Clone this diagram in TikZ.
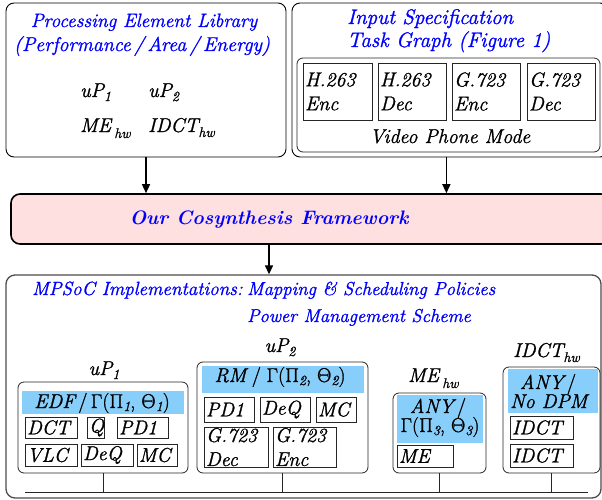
\documentclass[tikz,border=0pt]{standalone}
\usepackage{fontspec}
\newfontfamily\heavy{Latin Modern Roman}[FakeBold=1.2]
\usetikzlibrary{arrows.meta}
\definecolor{hdr}{RGB}{135,206,250}
\definecolor{fwpink}{RGB}{255,224,224}
\definecolor{ttl}{RGB}{0,0,255}
\newcommand{\mysub}[2][-4pt]{\raisebox{#1}{\fontsize{14}{14}\selectfont #2}}
\newcommand{\gsub}[1]{\raisebox{-3pt}{\fontsize{14}{14}\selectfont\itshape #1}}
\newcommand{\fs}[1]{\fontsize{#1}{24}\selectfont}
\newcommand{\rbox}[6]{%
  \pgfmathsetmacro\rbw{#5-#3}\pgfmathsetmacro\rbh{#6-#4}%
  \pgfmathsetmacro\rbx{(#3+#5)/2}\pgfmathsetmacro\rby{(#4+#6)/2}%
  \node[#1, minimum width=\rbw pt, minimum height=\rbh pt, inner sep=0pt] (#2) at (\rbx,\rby) {};}
\newcommand{\tbox}[6]{%
  \pgfmathsetmacro\rbw{#4-#2}\pgfmathsetmacro\rbh{#5-#3}\pgfmathsetmacro\rbt{#4-#2-4}%
  \pgfmathsetmacro\rbx{(#2+#4)/2}\pgfmathsetmacro\rby{(#3+#5)/2}%
  \node[taskbox, minimum width=\rbw pt, minimum height=\rbh pt, text width=\rbt pt] (#1) at (\rbx,\rby) {#6};}
\begin{document}
\begin{tikzpicture}[x=1pt,y=-1pt,
  every node/.style={font=\heavy\fontsize{20}{24}\selectfont\itshape, inner sep=0pt},
  outerbox/.style={draw=black, line width=0.9pt, rounded corners=8pt},
  fwbox/.style={draw=black, fill=fwpink, line width=1.6pt, rounded corners=9pt},
  implbox/.style={draw=black!70, line width=1.3pt, rounded corners=9pt},
  pebox/.style={draw=black!85, line width=0.8pt, rounded corners=6pt},
  hdrbox/.style={fill=hdr},
  taskbox/.style={draw=black!85, line width=0.8pt, align=left, inner xsep=2pt, inner ysep=0pt},
  ttltext/.style={text=ttl},
  arr/.style={line width=1.4pt, -{Triangle[length=9pt,width=8pt]}},
  bus/.style={line width=0.7pt, draw=black!85}]
\useasboundingbox (0,0) rectangle (602,500);

% Processing element library
\rbox{outerbox}{pel}{6}{3}{286}{157}
\node[ttltext, anchor=base] (pelt1) at (144,27) {\fs{19.3}Processing Element Library};
\node[ttltext, anchor=base] (pelt2) at (142,51) {(Performance\,/\,Area\,/\,Energy)};
\node[anchor=base west] (lup1) at (80,97) {uP\mysub{1}};
\node[anchor=base west] (lup2) at (148,97) {uP\mysub{2}};
\node[anchor=base west] (lme) at (80,132) {ME\,\mysub[-6pt]{hw}};
\node[anchor=base west] (lidct) at (148,132) {IDCT\mysub[-5pt]{hw}};

% Input specification
\rbox{outerbox}{spec}{292}{3}{608}{157}
\node[ttltext, anchor=base west] (spt1) at (347,24) {\fs{21}Input Specification};
\node[ttltext, anchor=base west] (spt2) at (347,47) {\fs{21}Task Graph (Figure 1)};
\rbox{pebox}{vpm}{297}{58}{600}{152}
\tbox{t1}{303}{63}{372}{120}{H.263\\Enc}
\tbox{t2}{378}{63}{446}{120}{H.263\\Dec}
\tbox{t3}{452}{63}{520}{120}{G.723\\Enc}
\tbox{t4}{527}{63}{595}{120}{G.723\\Dec}
\node[anchor=base] (vpmt) at (450,143) {Video Phone Mode};

% Framework
\rbox{fwbox}{fw}{11}{194}{610}{244}
\node[anchor=base, text=ttl, font=\fontsize{19.5}{24}\selectfont\bfseries\itshape] (fwt) at (269,224) {Our Cosynthesis Framework};

% Implementations
\rbox{implbox}{impl}{6}{275}{601}{498}
\node[ttltext, anchor=base west] (it1) at (32,295) {\fs{19.1}MPSoC Implementations:};
\node[ttltext, anchor=base west] (it2) at (247,295) {\fs{18.7}Mapping \& Scheduling Policies};
\node[ttltext, anchor=base west] (it3) at (247,322) {\fs{18.6}Power Management Scheme};

% arrows
\draw[arr] (pel.south) -- (pel.south |- fw.north);
\draw[arr] (spec.south -| t2.east) -- (t2.east |- fw.north);
\coordinate (fwc) at (269,0);
\draw[arr] (fwc |- fw.south) -- (fwc |- impl.north);

% uP1
\node[anchor=base] (up1l) at (104,375) {uP\mysub{1}};
\rbox{pebox}{up1}{18}{382}{188}{473}
\rbox{hdrbox}{up1h}{22}{391}{184}{414}
\node[anchor=base] (up1ht) at (102,408) {EDF\,{\upshape/\,Γ(Π}\gsub{1}{\upshape, Θ}\gsub{1}{\upshape)}};
\tbox{a1}{25}{417}{77}{438}{DCT}
\tbox{a2}{87}{417}{104}{438}{Q}
\tbox{a3}{117}{417}{168}{438}{PD1}
\tbox{a4}{25}{444}{77}{466}{VLC}
\tbox{a5}{81}{444}{133}{466}{DeQ}
\tbox{a6}{137}{444}{177}{466}{MC}

% uP2
\node[anchor=base] (up2l) at (280,352) {uP\mysub{2}};
\rbox{pebox}{up2}{197}{362}{368}{473}
\rbox{hdrbox}{up2h}{202}{366}{364}{393}
\node[anchor=base] (up2ht) at (280,382) {RM\;{\upshape/\;Γ(Π}\gsub{2}{\upshape, Θ}\gsub{2}{\upshape)}};
\tbox{b1}{204}{397}{254}{422}{PD1}
\tbox{b2}{260}{397}{310}{422}{DeQ}
\tbox{b3}{316}{397}{356}{422}{MC}
\tbox{b4}{204}{427}{268}{467}{\fontsize{20}{20}\selectfont G.723\\Dec}
\tbox{b5}{273}{427}{336}{467}{\fontsize{20}{20}\selectfont G.723\\Enc}

% ME hw
\node[anchor=base west] (mel) at (408,382) {ME\,\mysub[-6pt]{hw}};
\rbox{pebox}{me}{393}{393}{486}{473}
\rbox{hdrbox}{meh}{397}{395}{483}{443}
\node[anchor=base] (meht1) at (438,413) {ANY\,{\upshape/}};
\node[anchor=base] (meht2) at (440,432) {\upshape Γ(Π\gsub{3}, Θ\gsub{3})};
\tbox{c1}{397}{445}{453}{467}{ME}

% IDCT hw
\node[anchor=base west] (idl) at (513,357) {IDCT\mysub[-5pt]{hw}};
\rbox{pebox}{idct}{503}{367}{600}{473}
\rbox{hdrbox}{idh}{508}{369}{598}{413}
\node[anchor=base] (idht1) at (548,389) {ANY\,{\upshape/}};
\node[anchor=base west] (idht2) at (510,408) {No DPM};
\tbox{d1}{510}{416}{573}{439}{IDCT}
\tbox{d2}{510}{444}{573}{467}{IDCT}

% bus
\coordinate (busL) at (25,492);
\coordinate (busR) at (588,492);
\draw[bus] (busL) -- (busR);
\draw[bus] (up1.south) -- (up1.south |- busL);
\draw[bus] (up2.south) -- (up2.south |- busL);
\draw[bus] (me.south) -- (me.south |- busL);
\draw[bus] (idct.south) -- (idct.south |- busL);
\end{tikzpicture}
\end{document}
